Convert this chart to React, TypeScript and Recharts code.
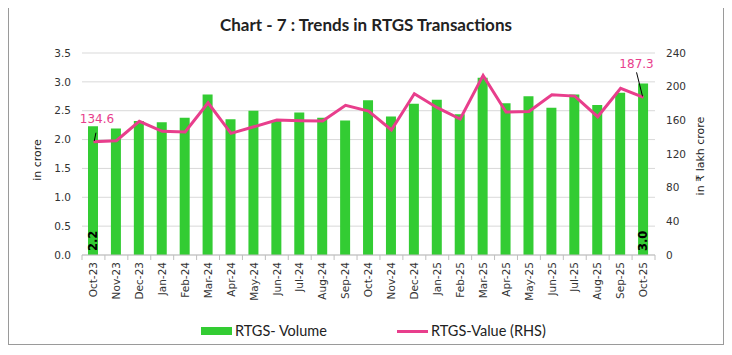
import {
  Bar,
  CartesianGrid,
  ComposedChart,
  LabelList,
  Legend,
  Line,
  XAxis,
  YAxis,
} from "recharts";

const months = [
  "Oct-23", "Nov-23", "Dec-23", "Jan-24", "Feb-24", "Mar-24", "Apr-24", "May-24", "Jun-24",
  "Jul-24", "Aug-24", "Sep-24", "Oct-24", "Nov-24", "Dec-24", "Jan-25", "Feb-25", "Mar-25",
  "Apr-25", "May-25", "Jun-25", "Jul-25", "Aug-25", "Sep-25", "Oct-25",
];
// RTGS volume, in crore (LHS)
const volume = [
  2.23, 2.19, 2.32, 2.3, 2.38, 2.78, 2.35, 2.5, 2.33, 2.47, 2.38, 2.33, 2.68, 2.4, 2.62, 2.69,
  2.44, 3.07, 2.63, 2.75, 2.55, 2.78, 2.6, 2.81, 2.97,
];
// RTGS value, in ₹ lakh crore (RHS)
const value = [
  134.6, 135.8, 158.8, 146.9, 146.1, 180.9, 144.5, 152.4, 160.3, 159.5, 159.3, 177.8, 171.0,
  148.5, 191.6, 175.0, 161.5, 213.4, 169.8, 170.6, 190.4, 188.8, 164.3, 198.0, 187.3,
];
const leftTicks = [0, 0.5, 1, 1.5, 2, 2.5, 3, 3.5];
const rightTicks = [0, 40, 80, 120, 160, 200, 240];

const data = months.map((m, i) => ({ month: m, volume: volume[i], value: value[i] }));

const W = 714;
const H = 338;
const PLOT_LEFT = 73;
const PLOT_W = 573;
const PLOT_TOP = 47;
const PLOT_H = 202;
const AXIS_FONT = "'DejaVu Sans', sans-serif";
const TEXT_FONT = "Lato, 'Open Sans', sans-serif";
const GREEN = "#33cc33";
const PINK = "#e83e8c";

const MonthTick = (props: any) => {
  const { x, y, payload, index } = props;
  const step = PLOT_W / months.length;
  const base = PLOT_TOP + PLOT_H;
  return (
    <g>
      <line x1={x - step / 2} x2={x - step / 2} y1={base} y2={base + 5} stroke="#bfbfbf" />
      {index === months.length - 1 && (
        <line x1={x + step / 2} x2={x + step / 2} y1={base} y2={base + 5} stroke="#bfbfbf" />
      )}
      <text
        transform={`translate(${x},${y}) rotate(-90)`}
        textAnchor="end"
        dy="0.35em"
        fontSize={10.5}
        fontFamily={AXIS_FONT}
        fill="#333"
      >
        {payload.value}
      </text>
    </g>
  );
};

const AxisTitle = ({ px, py, text }: { px: number; py: number; text: string }) => (
  <text
    transform={`translate(${px},${py}) rotate(-90)`}
    textAnchor="middle"
    fontSize={11}
    fontFamily={AXIS_FONT}
    style={{ fill: "#222" }}
  >
    {text}
  </text>
);

const ValueLabel = (props: any) => {
  const x = props.x ?? props.viewBox?.x;
  const y = props.y ?? props.viewBox?.y;
  const { index } = props;
  const last = months.length - 1;
  if (index !== 0 && index !== last) return null;
  const v = value[index].toFixed(1);
  if (index === 0) {
    return (
      <g>
        <line x1={x + 2.5} y1={y - 9} x2={x + 0.8} y2={y - 0.7} stroke="#000" />
        <text x={x + 3.5} y={y - 18.5} textAnchor="middle" fontSize={12} fontFamily={AXIS_FONT} fill={PINK}>
          {v}
        </text>
      </g>
    );
  }
  return (
    <g>
      <line x1={x - 7} y1={y - 25} x2={x - 1} y2={y - 1} stroke="#000" />
      <text x={x - 7} y={y - 29} textAnchor="middle" fontSize={12} fontFamily={AXIS_FONT} fill={PINK}>
        {v}
      </text>
    </g>
  );
};

const VolumeLabel = (props: any) => {
  const vb = props.viewBox ?? props;
  const { index } = props;
  if (index !== 0 && index !== months.length - 1) return null;
  const cx = vb.x + vb.width / 2;
  const bottom = vb.y + vb.height;
  return (
    <text
      transform={`translate(${cx},${bottom - 4}) rotate(-90)`}
      textAnchor="start"
      dy="0.35em"
      fontSize={11.5}
      fontWeight="bold"
      fontFamily={AXIS_FONT}
      fill="#000"
    >
      {volume[index].toFixed(1)}
    </text>
  );
};

const LegendContent = () => (
  <div style={{ position: "relative", height: 20, fontFamily: TEXT_FONT, fontSize: 14.5, color: "#222" }}>
    <span style={{ position: "absolute", left: 192, top: 6, width: 31, height: 8, background: GREEN }} />
    <span style={{ position: "absolute", left: 226, top: 0, lineHeight: "20px" }}>RTGS- Volume</span>
    <span style={{ position: "absolute", left: 388, top: 9, width: 31, height: 3, background: PINK }} />
    <span style={{ position: "absolute", left: 422, top: 0, lineHeight: "20px" }}>RTGS-Value (RHS)</span>
  </div>
);

export default function App() {
  return (
    <div
      style={{
        position: "relative",
        top: -3,
        width: W,
        height: H,
        border: "1px solid #9a9a9a",
        background: "#fff",
      }}
    >
      <div
        style={{
          position: "absolute",
          top: 9,
          left: 0,
          width: W,
          textAlign: "center",
          fontFamily: TEXT_FONT,
          fontWeight: "bold",
          fontSize: 17,
          lineHeight: "20px",
          color: "#222",
          zIndex: 1,
        }}
      >
        Chart - 7 : Trends in RTGS Transactions
      </div>
      <ComposedChart
        width={W}
        height={H}
        data={data}
        margin={{ top: PLOT_TOP, right: 0, left: 0, bottom: H - PLOT_TOP - PLOT_H - 50 }}
      >
        <CartesianGrid yAxisId="left" vertical={false} stroke="#d9d9d9" />
        <XAxis
          dataKey="month"
          interval={0}
          height={50}
          tickLine={false}
          tickSize={2}
          tickMargin={5}
          axisLine={{ stroke: "#bfbfbf" }}
          tick={<MonthTick />}
        />
        <YAxis
          yAxisId="left"
          width={PLOT_LEFT}
          domain={[0, 3.5]}
          ticks={leftTicks}
          tickFormatter={(v: number) => v.toFixed(1)}
          axisLine={false}
          tickLine={false}
          tickMargin={5}
          tick={{ fontSize: 10.5, fontFamily: AXIS_FONT, fill: "#333" }}
          label={<AxisTitle px={32} py={154} text="in crore" />}
        />
        <YAxis
          yAxisId="right"
          orientation="right"
          width={W - PLOT_LEFT - PLOT_W}
          domain={[0, 240]}
          ticks={rightTicks}
          axisLine={false}
          tickLine={false}
          tickMargin={5}
          tick={{ fontSize: 10.5, fontFamily: AXIS_FONT, fill: "#333" }}
          label={<AxisTitle px={695} py={150} text="in ₹ lakh crore" />}
        />
        <Legend
          verticalAlign="middle"
          align="center"
          layout="horizontal"
          wrapperStyle={{ top: 315, left: 0, width: W, height: 20 }}
          content={<LegendContent />}
        />
        <Bar yAxisId="left" dataKey="volume" name="RTGS- Volume" fill={GREEN} barSize={10} isAnimationActive={false}>
          <LabelList dataKey="volume" content={<VolumeLabel />} />
        </Bar>
        <Line
          yAxisId="right"
          type="linear"
          dataKey="value"
          name="RTGS-Value (RHS)"
          stroke={PINK}
          strokeWidth={3}
          dot={false}
          isAnimationActive={false}
        >
          <LabelList dataKey="value" content={<ValueLabel />} />
        </Line>
      </ComposedChart>
    </div>
  );
}
